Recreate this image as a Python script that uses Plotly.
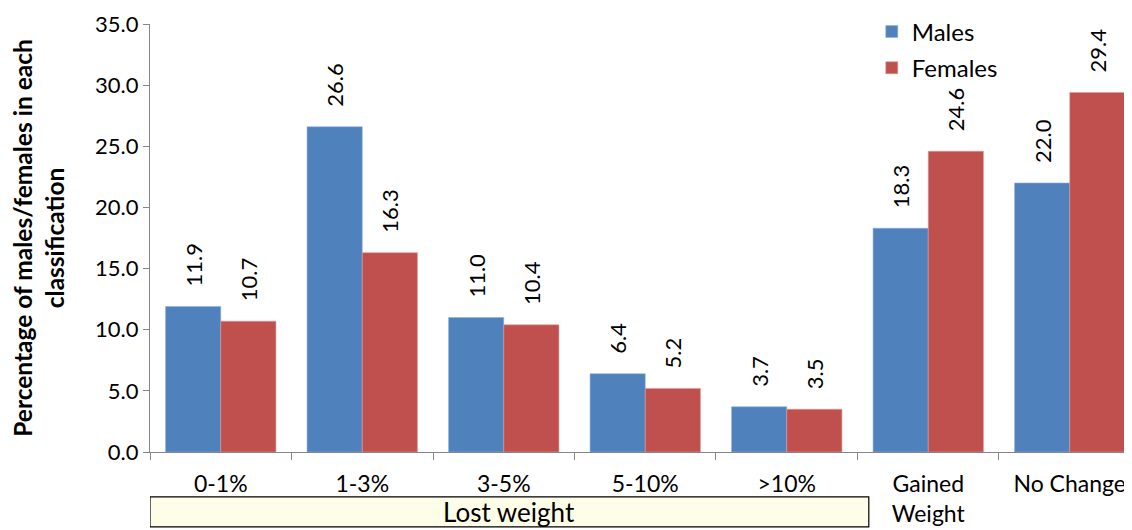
import plotly.graph_objects as go

categories = ["0-1%", "1-3%", "3-5%", "5-10%", ">10%", "Gained<br>Weight", "No Change"]
males = [11.9, 26.6, 11.0, 6.4, 3.7, 18.3, 22.0]
females = [10.7, 16.3, 10.4, 5.2, 3.5, 24.6, 29.4]
y_ticks = [0, 5, 10, 15, 20, 25, 30, 35]
group_label = "Lost weight"

FONT = "Lato, Carlito, Calibri, sans-serif"
PAD = "\u00a0" * 3

def labels(vals):
    return [PAD + f"{v:.1f}" for v in vals]

fig = go.Figure()
fig.add_trace(go.Bar(
    name="Males", x=categories, y=males, legendgroup="m",
    marker=dict(color="#4F81BD", line=dict(color="#8FB0DA", width=0.6)),
    text=labels(males), textposition="outside", textangle=-90, constraintext="none",
    textfont=dict(family=FONT, size=22, color="black"), cliponaxis=False,
))
fig.add_trace(go.Bar(
    name="Females", x=categories, y=females, legendgroup="f",
    marker=dict(color="#C0504D", line=dict(color="#DE9A98", width=0.6)),
    text=labels(females), textposition="outside", textangle=-90, constraintext="none",
    textfont=dict(family=FONT, size=22, color="black"), cliponaxis=False,
))

fig.update_layout(
    width=1124, height=522,
    margin=dict(l=142, r=0, t=16, b=78, autoexpand=False),
    paper_bgcolor="white", plot_bgcolor="white",
    barmode="group", bargap=0.22, bargroupgap=0,
    font=dict(family=FONT, size=22, color="black"),
    legend=dict(x=0.735, y=1.034, xanchor="left", yanchor="top",
                font=dict(family=FONT, size=24), bgcolor="rgba(0,0,0,0)",
                itemwidth=30, tracegroupgap=2),
    showlegend=True,
)
fig.update_yaxes(
    range=[0, 35], tickvals=y_ticks, tickformat=".1f",
    showline=True, linecolor="#868686", linewidth=1.3,
    ticks="outside", ticklen=6, tickcolor="#868686",
    showgrid=False, zeroline=False, automargin=False,
    tickfont=dict(family=FONT, size=22),
    title=dict(text="<b>Percentage of males/females in each<br>classification</b>",
               font=dict(family=FONT, size=24.5), standoff=26),
)
fig.update_xaxes(
    range=[-0.5, 6.44], automargin=False,
    showline=True, linecolor="#868686", linewidth=1.3,
    ticks="outside", ticklen=7, tickcolor="#868686", tickson="boundaries",
    tickfont=dict(family=FONT, size=23),
    ticklabelstandoff=11,
    showgrid=False,
)

fig.add_shape(type="rect", xref="x", yref="paper",
              x0=-0.5, x1=4.58, y0=-0.175, y1=-0.105,
              fillcolor="#FEFEE8", line=dict(color="black", width=1.2))
fig.add_annotation(xref="x", yref="paper", x=(-0.5 + 4.58) / 2, y=-0.141,
                   xanchor="center", yanchor="middle",
                   text=group_label, showarrow=False,
                   font=dict(family=FONT, size=26, color="black"))

fig.write_html("out.html")
